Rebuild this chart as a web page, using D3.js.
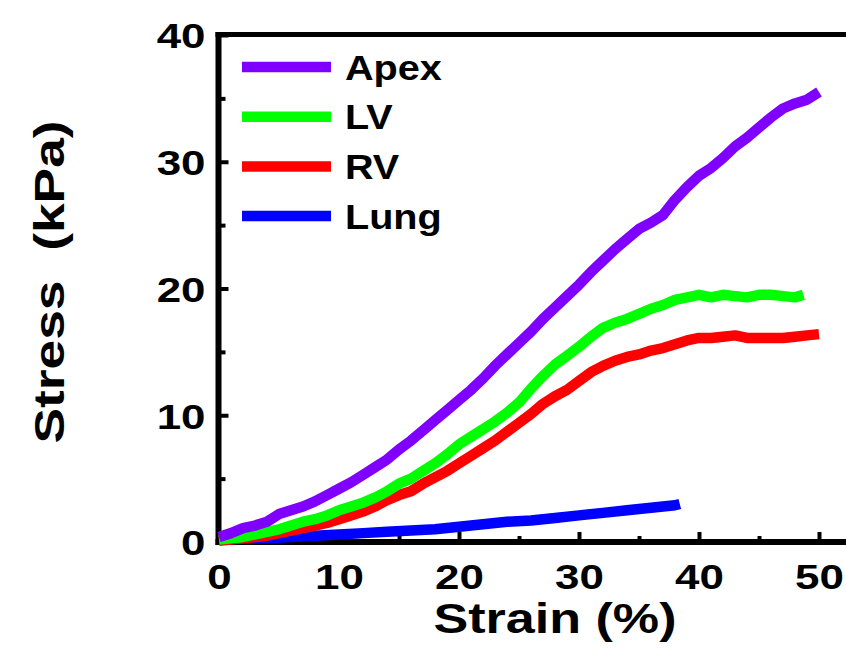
<!DOCTYPE html>
<html>
<head>
<meta charset="utf-8">
<script src="https://cdn.jsdelivr.net/npm/d3@7/dist/d3.min.js"></script>
<style>
  html, body { margin: 0; padding: 0; background: #fff; }
  svg { display: block; font-family: "Liberation Sans", Arial, Helvetica, sans-serif; font-weight: bold; }
</style>
</head>
<body>
<svg id="chart" width="846" height="652"></svg>
<script>
// Tensile stress-strain curves of tissue samples
const seriesNames  = ["Apex", "LV", "RV", "Lung"];
const seriesColors = ["#8000ff", "#00ff00", "#ff0000", "#0000ff"];

const apexStrain = [0,1,2,3,4,5,6,7,8,9,10,11,12,13,14,15,16,17,18,19,20,21,22,23,24,25,26,27,28,29,30,31,32,33,34,35,36,37,38,39,40,41,42,43,44,45,46,47,48,49,50];
const apexStress = [0.4,0.7,1.1,1.3,1.6,2.2,2.5,2.8,3.2,3.7,4.2,4.7,5.3,5.9,6.5,7.3,8.0,8.8,9.6,10.4,11.2,12.0,12.9,13.9,14.8,15.7,16.6,17.6,18.5,19.4,20.3,21.3,22.2,23.1,23.9,24.7,25.2,25.8,27.0,28.0,28.9,29.5,30.3,31.2,31.9,32.7,33.5,34.2,34.6,34.9,35.5];

const lvStrain = [0,1,2,3,4,5,6,7,8,9,10,11,12,13,14,15,16,17,18,19,20,21,22,23,24,25,26,27,28,29,30,31,32,33,34,35,36,37,38,39,40,41,42,43,44,45,46,47,48,48.7];
const lvStress = [0.2,0.3,0.4,0.6,0.8,1.0,1.3,1.6,1.8,2.1,2.5,2.8,3.1,3.5,4.0,4.6,5.0,5.6,6.2,6.9,7.7,8.3,8.9,9.5,10.2,11.0,12.1,13.1,14.0,14.7,15.4,16.2,16.9,17.3,17.6,18.0,18.4,18.7,19.1,19.3,19.5,19.3,19.5,19.4,19.3,19.5,19.5,19.4,19.3,19.5];

const rvStrain = [0,1,2,3,4,5,6,7,8,9,10,11,12,13,14,15,16,17,18,19,20,21,22,23,24,25,26,27,28,29,30,31,32,33,34,35,36,37,38,39,40,41,42,43,44,45,46,47,48,49,50];
const rvStress = [0.1,0.2,0.3,0.4,0.5,0.7,0.9,1.1,1.3,1.5,1.8,2.1,2.4,2.8,3.3,3.7,4.0,4.6,5.1,5.6,6.2,6.8,7.4,8.0,8.7,9.4,10.1,10.9,11.5,12.0,12.7,13.4,13.9,14.3,14.6,14.8,15.1,15.3,15.6,15.9,16.1,16.1,16.2,16.3,16.1,16.1,16.1,16.1,16.2,16.3,16.4];

const lungStrain = [0,2,4,6,8,10,12,14,16,18,20,22,24,26,28,30,32,34,36,38,38.4];
const lungStress = [0.3,0.3,0.3,0.4,0.5,0.6,0.7,0.8,0.9,1.0,1.2,1.4,1.6,1.7,1.9,2.1,2.3,2.5,2.7,2.9,3.0];

const xMajorTicks = [0, 10, 20, 30, 40, 50];
const xMinorTicks = [5, 15, 25, 35, 45];
const yMajorTicks = [0, 10, 20, 30, 40];
const yMinorTicks = [5, 15, 25, 35];

const xTitle = "Strain (%)";
const yTitle = "Stress  (kPa)";

const strains  = [apexStrain, lvStrain, rvStrain, lungStrain];
const stresses = [apexStress, lvStress, rvStress, lungStress];
const series = seriesNames.map((name, i) => ({
  name, color: seriesColors[i],
  points: strains[i].map((s, j) => [s, stresses[i][j]])
}));

const W = 846, H = 652;
const svg = d3.select("#chart");

const x = d3.scaleLinear().domain([0, 50]).range([219, 819]);
const y = d3.scaleLinear().domain([0, 40]).range([542, 35]);

// Frame: left, bottom and top spines (right spine lies outside the view)
const frame = svg.append("g").attr("stroke", "#000").attr("fill", "none");
frame.append("line").attr("x1", 218.5).attr("x2", 218.5).attr("y1", 32).attr("y2", 545).attr("stroke-width", 6);
frame.append("line").attr("x1", 215.5).attr("x2", W + 5).attr("y1", 542).attr("y2", 542).attr("stroke-width", 6);
frame.append("line").attr("x1", 215.5).attr("x2", W + 5).attr("y1", 34.5).attr("y2", 34.5).attr("stroke-width", 5);

// Inward ticks
function styleAxis(g) {
  g.select(".domain").remove();
  g.selectAll(".tick line").attr("stroke", "#000").attr("stroke-width", 4);
}

svg.append("g").attr("transform", "translate(219.5,0)")
  .call(d3.axisLeft(y).tickValues(yMinorTicks).tickSize(-6).tickFormat(""))
  .call(styleAxis);

const yAxis = svg.append("g").attr("transform", "translate(219.5,0)")
  .call(d3.axisLeft(y).tickValues(yMajorTicks).tickSize(-9).tickPadding(14))
  .call(styleAxis);
yAxis.selectAll(".tick text")
  .attr("x", null).attr("dy", "0.36em")
  .attr("transform", "translate(-14,0) scale(1.22,1)")
  .style("font-size", "36px").style("font-weight", "bold").attr("fill", "#000")
  .style("font-family", "'Liberation Sans', Arial, sans-serif");

svg.append("g").attr("transform", "translate(0,541)")
  .call(d3.axisBottom(x).tickValues(xMinorTicks).tickSize(-5).tickFormat(""))
  .call(styleAxis);

const xAxis = svg.append("g").attr("transform", "translate(0,541)")
  .call(d3.axisBottom(x).tickValues(xMajorTicks).tickSize(-9).tickPadding(22))
  .call(styleAxis);
xAxis.selectAll(".tick text")
  .attr("transform", "scale(1.22,1)")
  .style("font-size", "36px").style("font-weight", "bold").attr("fill", "#000")
  .style("font-family", "'Liberation Sans', Arial, sans-serif");

// Curves
const line = d3.line().x(d => x(d[0])).y(d => y(d[1]));
svg.append("g").selectAll("path").data(series.slice().reverse()).join("path")
  .attr("d", d => line(d.points))
  .attr("fill", "none")
  .attr("stroke", d => d.color)
  .attr("stroke-width", 10.5)
  .attr("stroke-linejoin", "round")
  .attr("stroke-linecap", "butt");

// Legend
const legend = svg.append("g").attr("transform", "translate(242,67)");
const item = legend.selectAll("g").data(series).join("g")
  .attr("transform", (d, i) => `translate(0,${i * 49.7})`);
item.append("line").attr("x1", 0).attr("x2", 89).attr("y1", 0).attr("y2", 0)
  .attr("stroke", d => d.color).attr("stroke-width", 10.5);
item.append("text")
  .attr("transform", "translate(103,12.5) scale(1.1,1)")
  .style("font-size", "36px").attr("fill", "#000")
  .text(d => d.name);

// Axis titles
svg.append("text")
  .attr("transform", "translate(555,633) scale(1.24,1)")
  .attr("text-anchor", "middle")
  .style("font-size", "42px").attr("fill", "#000")
  .text(xTitle);

svg.append("text")
  .attr("transform", "translate(64,282) rotate(-90) scale(1.27,1)")
  .attr("text-anchor", "middle")
  .style("font-size", "42px").style("white-space", "pre").attr("fill", "#000")
  .text(yTitle);
</script>
</body>
</html>
